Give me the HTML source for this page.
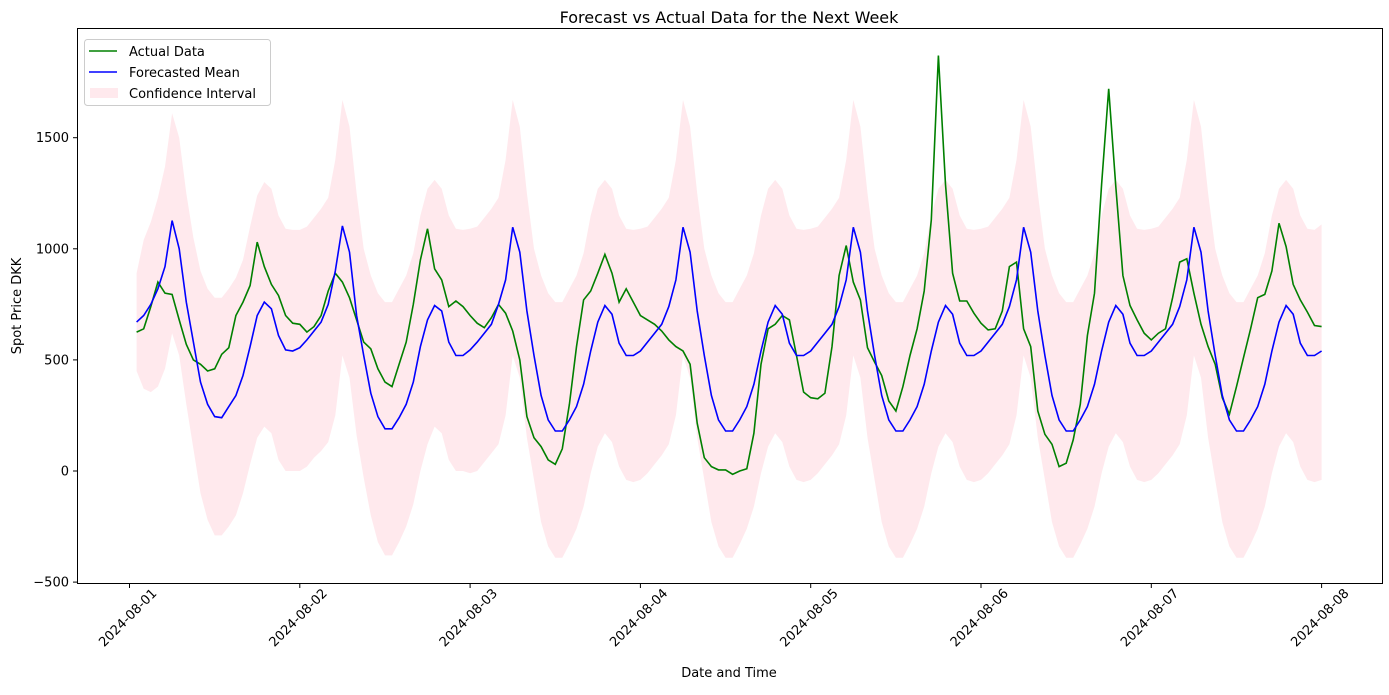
<!DOCTYPE html>
<html><head><meta charset="utf-8"><style>
body{margin:0;background:#fff;}
svg text{font-family:"DejaVu Sans","Liberation Sans",sans-serif;}
</style></head><body>
<svg id="chart" width="1389" height="690" xmlns="http://www.w3.org/2000/svg">
<rect width="1389" height="690" fill="#fff"/>
<g id="band"></g>
<g id="lines"></g>
<g id="axes"></g>
</svg>
<script>
const ticks = ["2024-08-01","2024-08-02","2024-08-03","2024-08-04","2024-08-05","2024-08-06","2024-08-07","2024-08-08"];
const yTicks = [-500,0,500,1000,1500];
const actual = [625,640,740,850,800,795,680,570,500,480,450,460,525,555,700,760,835,1030,920,840,790,700,665,660,
625,650,700,810,890,850,780,680,580,550,460,400,380,480,580,750,950,1090,910,860,740,765,740,700,
665,645,690,750,710,630,500,245,150,110,50,30,100,300,560,770,810,890,975,890,760,820,760,700,
680,660,630,590,560,540,480,215,60,20,5,5,-15,0,10,170,480,640,660,700,680,520,355,330,
325,350,560,880,1015,850,770,555,490,430,315,270,380,520,640,810,1130,1870,1290,890,765,765,710,665,
635,640,720,920,940,640,560,270,165,120,20,35,140,300,610,800,1290,1720,1280,880,745,680,620,590,
620,640,780,940,955,800,660,560,480,330,255,380,510,640,780,795,900,1115,1010,840,770,715,655,650];
const mean = [670,700,750,820,920,1127,1000,760,580,400,300,245,240,290,340,430,560,700,760,730,610,545,540,555,
590,630,670,750,900,1103,985,700,520,350,245,190,190,240,300,400,560,680,745,720,580,520,520,545,
580,620,660,750,860,1097,985,720,520,340,230,180,180,230,290,390,540,670,745,705,575,520,520,540,
580,620,660,740,860,1097,985,720,520,340,230,180,180,230,290,390,540,670,745,705,575,520,520,540,
580,620,660,740,860,1097,985,720,520,340,230,180,180,230,290,390,540,670,745,705,575,520,520,540,
580,620,660,740,860,1097,985,720,520,340,230,180,180,230,290,390,540,670,745,705,575,520,520,540,
580,620,660,740,860,1097,985,720,520,340,230,180,180,230,290,390,540,670,745,705,575,520,520,540];
const upper = [890,1040,1120,1230,1370,1610,1500,1250,1050,900,820,780,780,820,870,950,1100,1240,1300,1270,1150,1090,1085,1085,
1100,1140,1180,1230,1400,1670,1550,1250,1000,880,800,760,760,820,880,980,1150,1270,1310,1270,1150,1090,1085,1090,
1100,1140,1180,1230,1400,1670,1550,1250,1000,880,800,760,760,820,880,980,1150,1270,1310,1270,1150,1090,1085,1090,
1100,1140,1180,1230,1400,1670,1550,1250,1000,880,800,760,760,820,880,980,1150,1270,1310,1270,1150,1090,1085,1090,
1100,1140,1180,1230,1400,1670,1550,1250,1000,880,800,760,760,820,880,980,1150,1270,1310,1270,1150,1090,1085,1090,
1100,1140,1180,1230,1400,1670,1550,1250,1000,880,800,760,760,820,880,980,1150,1270,1310,1270,1150,1090,1085,1090,
1100,1140,1180,1230,1400,1670,1550,1250,1000,880,800,760,760,820,880,980,1150,1270,1310,1270,1150,1090,1085,1110];
const lower = [450,370,355,380,460,620,520,300,100,-100,-220,-290,-290,-250,-200,-100,30,150,200,170,50,0,0,0,
20,60,90,130,250,520,420,160,-30,-200,-320,-380,-380,-320,-250,-150,0,120,200,170,50,0,0,-10,
0,40,80,120,250,520,420,150,-40,-230,-340,-390,-390,-330,-260,-160,-10,110,170,130,20,-40,-50,-40,
-10,30,70,120,250,520,420,150,-40,-230,-340,-390,-390,-330,-260,-160,-10,110,170,130,20,-40,-50,-40,
-10,30,70,120,250,520,420,150,-40,-230,-340,-390,-390,-330,-260,-160,-10,110,170,130,20,-40,-50,-40,
-10,30,70,120,250,520,420,150,-40,-230,-340,-390,-390,-330,-260,-160,-10,110,170,130,20,-40,-50,-40,
-10,30,70,120,250,520,420,150,-40,-230,-340,-390,-390,-330,-260,-160,-10,110,170,130,20,-40,-50,-40];

const NS="http://www.w3.org/2000/svg";
const X0=129.5, DAY=170.3;
const xs = h => X0 + h*DAY/24;
const ys = v => 471 - v*0.2222;
function mk(tag, attrs, parent){const e=document.createElementNS(NS,tag);for(const k in attrs)e.setAttribute(k,attrs[k]);parent.appendChild(e);return e;}

let d="";
upper.forEach((v,i)=>{d+=(i?"L":"M")+xs(i+1).toFixed(1)+","+ys(v).toFixed(1);});
for(let i=lower.length-1;i>=0;i--) d+="L"+xs(i+1).toFixed(1)+","+ys(lower[i]).toFixed(1);
const band=mk("path",{d:d+"Z",fill:"#ffc0cb","fill-opacity":"0.35"},document.getElementById("band"));



const L=document.getElementById("lines");
function line(arr,color,name){
  const p=mk("path",{d:arr.map((v,i)=>(i?"L":"M")+xs(i+1).toFixed(1)+","+ys(v).toFixed(1)).join(""),fill:"none",stroke:color,"stroke-width":"1.6"},L);
  
  
}
line(actual,"#008000","actual-data-line");
line(mean,"#0000ff","forecast-mean-line");

const A=document.getElementById("axes");
mk("rect",{x:77.5,y:28.5,width:1305,height:555,fill:"none",stroke:"#000","stroke-width":"1"},A);
ticks.forEach((t,i)=>{
  const x=xs(i*24);
  mk("line",{x1:x,y1:584,x2:x,y2:588,stroke:"#000"},A);
  const tx=mk("text",{x:x+28,y:594,"font-size":"13","text-anchor":"end",transform:`rotate(-45 ${x+28} 594)`},A);
  tx.textContent=t;
  
  
});
yTicks.forEach(v=>{
  const y=ys(v);
  mk("line",{x1:73,y1:y,x2:77.5,y2:y,stroke:"#000"},A);
  const tx=mk("text",{x:69,y:y+4.5,"font-size":"13","text-anchor":"end"},A);
  tx.textContent=v<0?"\u2212"+(-v):String(v);
  
  
});
</script>
<svg style="position:absolute;left:0;top:0" width="1389" height="690" xmlns="http://www.w3.org/2000/svg">
<text x="729" y="23" font-size="16" text-anchor="middle" font-family="DejaVu Sans, Liberation Sans, sans-serif">Forecast vs Actual Data for the Next Week</text>
<text x="729" y="677" font-size="13" text-anchor="middle" font-family="DejaVu Sans, Liberation Sans, sans-serif">Date and Time</text>
<text x="21" y="306" font-size="13" text-anchor="middle" transform="rotate(-90 21 306)" font-family="DejaVu Sans, Liberation Sans, sans-serif">Spot Price DKK</text>
<g font-family="DejaVu Sans, Liberation Sans, sans-serif" font-size="13">
<rect x="84.5" y="39.5" width="186" height="66" rx="3" fill="#fff" fill-opacity="0.85" stroke="#ccc"/>
<line x1="89" y1="51" x2="117" y2="51" stroke="#008000" stroke-width="1.6"/>
<text x="129" y="56">Actual Data</text>
<line x1="89" y1="72" x2="117" y2="72" stroke="#0000ff" stroke-width="1.6"/>
<text x="129" y="77">Forecasted Mean</text>
<rect x="90" y="88" width="28" height="10" fill="#ffc0cb" fill-opacity="0.35"/>
<text x="129" y="98">Confidence Interval</text>
</g>
</svg>
</body></html>
